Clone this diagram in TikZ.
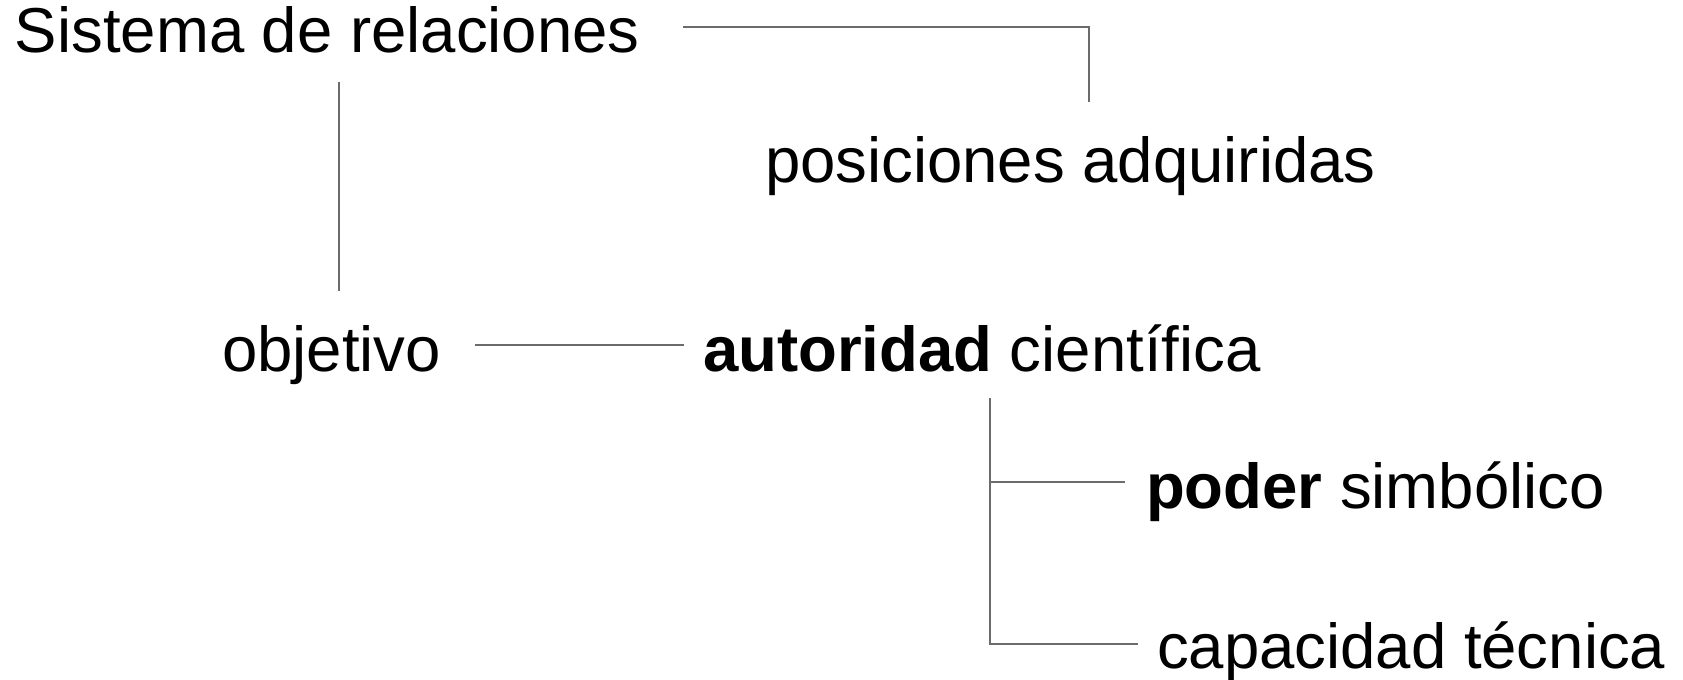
\documentclass[tikz,border=0pt]{standalone}
\usepackage{fontspec}
\setmainfont{Liberation Sans}
\usetikzlibrary{calc}
\begin{document}
\begin{tikzpicture}[x=0.5pt,y=-0.5pt,
  lbl/.style={anchor=base west,inner sep=0pt,outer sep=0pt,font=\fontsize{31.75pt}{36pt}\selectfont,text=black},
  conn/.style={draw=black!58,line width=1pt}]
\useasboundingbox (0,0) rectangle (1683,680);
\node[lbl] (sis) at (15,53) {Sistema de relaciones};
\node[lbl] (pos) at (765,182) {posiciones adquiridas};
\node[lbl] (obj) at (222,371) {objetivo};
\node[lbl] (aut) at (703,371) {\textbf{autoridad} científica};
\node[lbl] (pod) at (1146,508) {\textbf{poder} simbólico};
\node[lbl] (cap) at (1157,668) {capacidad técnica};
% connector end points
\coordinate (sisR) at (683,27);
\coordinate (posT) at (1089,102);
\coordinate (sisB) at (339,82);
\coordinate (objT) at (339,291);
\coordinate (objR) at (475,345);
\coordinate (autL) at (684,345);
\coordinate (autB) at (990,398);
\coordinate (podL) at (1125,482);
\coordinate (capL) at (1138,644);
\draw[conn] (sisR) -| (posT);
\draw[conn] (sisB) -- (objT);
\draw[conn] (objR) -- (autL);
\draw[conn] (autB) |- (capL);
\draw[conn] (autB |- podL) -- (podL);
\end{tikzpicture}
\end{document}
